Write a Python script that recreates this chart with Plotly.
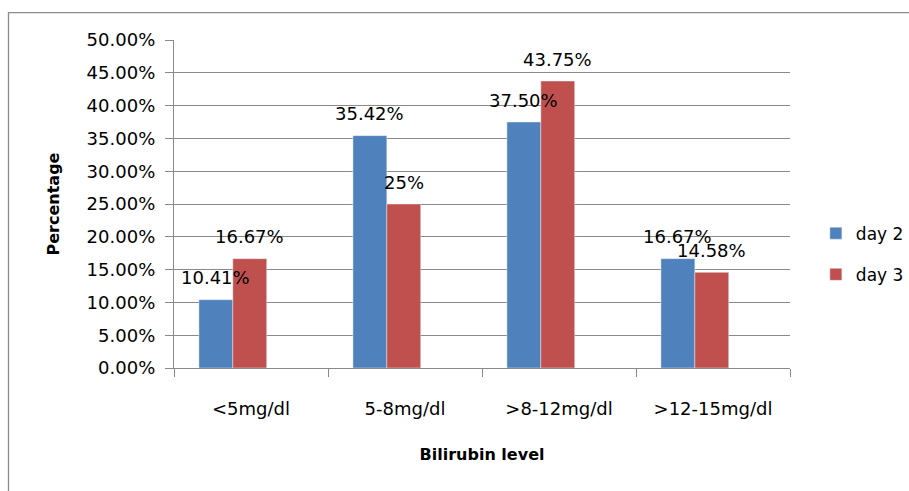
import plotly.graph_objects as go

categories = ["<5mg/dl", "5-8mg/dl", ">8-12mg/dl", ">12-15mg/dl"]
day2 = [10.41, 35.42, 37.50, 16.67]
day3 = [16.67, 25.00, 43.75, 14.58]
day2_labels = ["10.41%", "35.42%", "37.50%", "16.67%"]
day3_labels = ["16.67%", "25%", "43.75%", "14.58%"]
y_ticks = [0, 5, 10, 15, 20, 25, 30, 35, 40, 45, 50]
y_tick_text = ["0.00%", "5.00%", "10.00%", "15.00%", "20.00%", "25.00%",
               "30.00%", "35.00%", "40.00%", "45.00%", "50.00%"]

W, H = 909, 491
ML, MR, MT, MB = 174, 119, 40, 123
plot_w = W - ML - MR
plot_h = H - MT - MB
cat_px = plot_w / len(categories)

BAR_W = 0.22
OFF2 = -0.338
OFF3 = -0.118
GRID = "#8a8a8a"
FONT = "DejaVu Sans"

fig = go.Figure()
fig.add_trace(go.Bar(x=categories, y=day2, name="day 2", marker_color="#4F81BD",
                     width=BAR_W, offset=OFF2, legendgroup="a"))
fig.add_trace(go.Bar(x=categories, y=day3, name="day 3", marker_color="#C0504D",
                     width=BAR_W, offset=OFF3, legendgroup="b"))

annotations = []
for vals, labs, off in ((day2, day2_labels, OFF2), (day3, day3_labels, OFF3)):
    shift = (off + BAR_W / 2) * cat_px
    for c, v, t in zip(categories, vals, labs):
        annotations.append(dict(x=c, y=v, xref="x", yref="y", text=t, showarrow=False,
                                xshift=shift, yshift=22, yanchor="middle",
                                font=dict(family=FONT, size=18, color="black")))

fig.update_layout(
    width=W, height=H,
    margin=dict(l=ML, r=MR, t=MT, b=MB, pad=0, autoexpand=False),
    plot_bgcolor="white", paper_bgcolor="white",
    barmode="overlay",
    font=dict(family=FONT, size=18, color="black"),
    annotations=annotations,
    showlegend=True,
    legend=dict(x=1.042, y=0.347, xanchor="left", yanchor="middle",
                font=dict(family=FONT, size=17, color="black"),
                traceorder="grouped", tracegroupgap=16,
                bgcolor="rgba(0,0,0,0)"),
    shapes=[dict(type="rect", xref="paper", yref="paper",
                 x0=(8.5 - ML) / plot_w, x1=1.5, y0=-0.6, y1=(plot_h + MT - 12.7) / plot_h,
                 line=dict(color="#8c8c8c", width=1.3), fillcolor="rgba(0,0,0,0)", layer="below")],
)

fig.update_xaxes(
    type="category", showline=True, linecolor=GRID, linewidth=1.3,
    ticks="outside", tickson="boundaries", ticklen=8, tickcolor=GRID, tickwidth=1.3,
    showgrid=False, tickfont=dict(family=FONT, size=18, color="black"),
    ticklabelstandoff=24,
    title=dict(text="<b>Bilirubin level</b>", font=dict(family=FONT, size=16, color="black"), standoff=31),
)
fig.update_yaxes(
    range=[0, 50], tickmode="array", tickvals=y_ticks, ticktext=y_tick_text,
    showline=True, linecolor=GRID, linewidth=1.3,
    ticks="outside", ticklen=8, tickcolor=GRID, tickwidth=1.3,
    showgrid=True, gridcolor=GRID, gridwidth=1.3, zeroline=False,
    tickfont=dict(family=FONT, size=18, color="black"),
    ticklabelstandoff=6,
    title=dict(text="<b>Percentage</b>", font=dict(family=FONT, size=16, color="black"), standoff=23),
)

fig.write_html("out.html", config={"displayModeBar": False},
               post_script="document.body.style.margin='0';document.body.style.overflow='hidden';")
